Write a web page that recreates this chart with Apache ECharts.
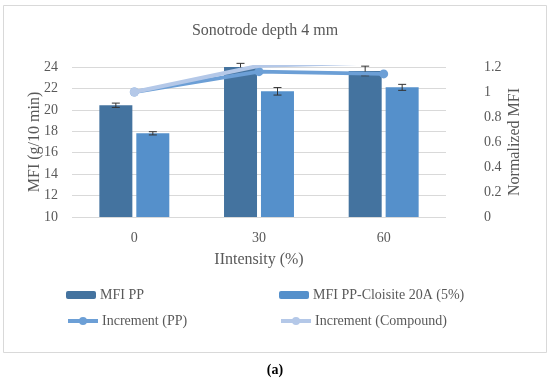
<!DOCTYPE html>
<html>
<head>
<meta charset="utf-8">
<script src="https://cdn.jsdelivr.net/npm/echarts@6/dist/echarts.min.js"></script>
<style>html,body{margin:0;padding:0;background:#fff}#c{width:550px;height:383px}</style>
</head>
<body>
<div id="c"></div>
<script>
const categories = ['0', '30', '60'];
const mfiPP = [20.43, 24.04, 23.63];
const mfiPPErr = [0.2, 0.3, 0.45];
const mfiComp = [17.81, 21.73, 22.1];
const mfiCompErr = [0.15, 0.35, 0.28];
const incPP = [1.0, 1.163, 1.145];
const incComp = [1.0, 1.21, 1.238];
const leftTicks = {min: 10, max: 24, interval: 2};
const rightTicks = {min: 0, max: 1.2, interval: 0.2};

const FONT = '"Liberation Serif", "DejaVu Serif", serif';
const TXT = '#595959';
const C_DARK = '#44739f';
const C_LIGHT = '#5590cb';
const C_LPP = '#6c9fd6';
const C_LCOMP = '#b4c8e8';

function errSeries(vals, errs, offset) {
  return {
    type: 'custom',
    yAxisIndex: 0,
    z: 5,
    silent: true,
    data: vals.map((v, i) => [i, v - errs[i], v + errs[i]]),
    renderItem: function (params, api) {
      const lo = api.coord([api.value(0), api.value(1)]);
      const hi = api.coord([api.value(0), api.value(2)]);
      const x = lo[0] + offset;
      const cw = 4;
      const st = {stroke: '#333', lineWidth: 1};
      return {
        type: 'group',
        children: [
          {type: 'line', shape: {x1: x, y1: lo[1], x2: x, y2: hi[1]}, style: st},
          {type: 'line', shape: {x1: x - cw, y1: lo[1], x2: x + cw, y2: lo[1]}, style: st},
          {type: 'line', shape: {x1: x - cw, y1: hi[1], x2: x + cw, y2: hi[1]}, style: st}
        ]
      };
    }
  };
}

const legendBar = {
  itemWidth: 30, itemHeight: 8, itemGap: 4,
  textStyle: {fontFamily: FONT, fontSize: 14, color: TXT, padding: [0, 0, 0, -1]},
  padding: 0
};
const legendLine = {
  itemWidth: 30, itemHeight: 10, itemGap: 4,
  lineStyle: {width: 4},
  textStyle: {fontFamily: FONT, fontSize: 14, color: TXT, padding: [0, 0, 0, -1]},
  padding: 0
};

const chart = echarts.init(document.getElementById('c'));
chart.setOption({
  animation: false,
  backgroundColor: '#fff',
  textStyle: {fontFamily: FONT},
  title: {
    text: 'Sonotrode depth 4 mm',
    left: 260, top: 18, textAlign: 'center',
    textStyle: {fontFamily: FONT, fontSize: 16, fontWeight: 'normal', color: TXT}
  },
  graphic: [
    {type: 'rect', shape: {x: 3.5, y: 5.5, width: 543, height: 347}, style: {fill: 'none', stroke: '#d9d9d9', lineWidth: 1}, z: -1},
    {type: 'text', x: 275, y: 370, style: {text: '(a)', font: 'bold 14px ' + FONT, fill: '#000', textAlign: 'center', textVerticalAlign: 'middle'}}
  ],
  grid: {left: 72, right: 104, top: 67, bottom: 166},
  legend: [
    Object.assign({}, legendBar, {data: ['MFI PP'], left: 66, top: 288}),
    Object.assign({}, legendBar, {data: ['MFI PP-Cloisite 20A (5%)'], left: 279, top: 288}),
    Object.assign({}, legendLine, {data: ['Increment (PP)'], left: 66, top: 314}),
    Object.assign({}, legendLine, {data: ['Increment (Compound)'], left: 279, top: 314})
  ],
  xAxis: {
    type: 'category',
    data: categories,
    name: 'IIntensity (%)',
    nameLocation: 'middle',
    nameGap: 35,
    nameTextStyle: {fontFamily: FONT, fontSize: 16, color: TXT},
    axisLine: {show: false},
    axisTick: {show: false},
    axisLabel: {fontFamily: FONT, fontSize: 14, color: TXT, margin: 14}
  },
  yAxis: [
    {
      type: 'value', min: leftTicks.min, max: leftTicks.max, interval: leftTicks.interval,
      name: 'MFI (g/10 min)', nameLocation: 'middle', nameGap: 29, nameMoveOverlap: false,
      nameTextStyle: {fontFamily: FONT, fontSize: 16, color: TXT},
      axisLine: {show: false}, axisTick: {show: false},
      axisLabel: {fontFamily: FONT, fontSize: 14, color: TXT, margin: 14},
      splitLine: {lineStyle: {color: '#d9d9d9', width: 1}}
    },
    {
      type: 'value', min: rightTicks.min, max: rightTicks.max, interval: rightTicks.interval,
      name: 'Normalized MFI', nameLocation: 'middle', nameGap: 61, nameMoveOverlap: false,
      nameTextStyle: {fontFamily: FONT, fontSize: 16, color: TXT},
      axisLine: {show: false}, axisTick: {show: false},
      axisLabel: {fontFamily: FONT, fontSize: 14, color: TXT, margin: 38},
      splitLine: {show: false}
    }
  ],
  series: [
    {name: 'MFI PP', type: 'bar', data: mfiPP, barWidth: 33, barGap: '12%', itemStyle: {color: C_DARK}},
    {name: 'MFI PP-Cloisite 20A (5%)', type: 'bar', data: mfiComp, barWidth: 33, barGap: '12%', itemStyle: {color: C_LIGHT}},
    errSeries(mfiPP, mfiPPErr, -18.5),
    errSeries(mfiComp, mfiCompErr, 18.5),
    {name: 'Increment (PP)', type: 'line', yAxisIndex: 1, data: incPP, symbol: 'circle', symbolSize: 9,
      lineStyle: {color: C_LPP, width: 4}, itemStyle: {color: C_LPP}, z: 6},
    {name: 'Increment (Compound)', type: 'line', yAxisIndex: 1, data: incComp, symbol: 'circle', symbolSize: 9,
      lineStyle: {color: C_LCOMP, width: 4}, itemStyle: {color: C_LCOMP}, z: 7}
  ]
});
</script>
</body>
</html>
